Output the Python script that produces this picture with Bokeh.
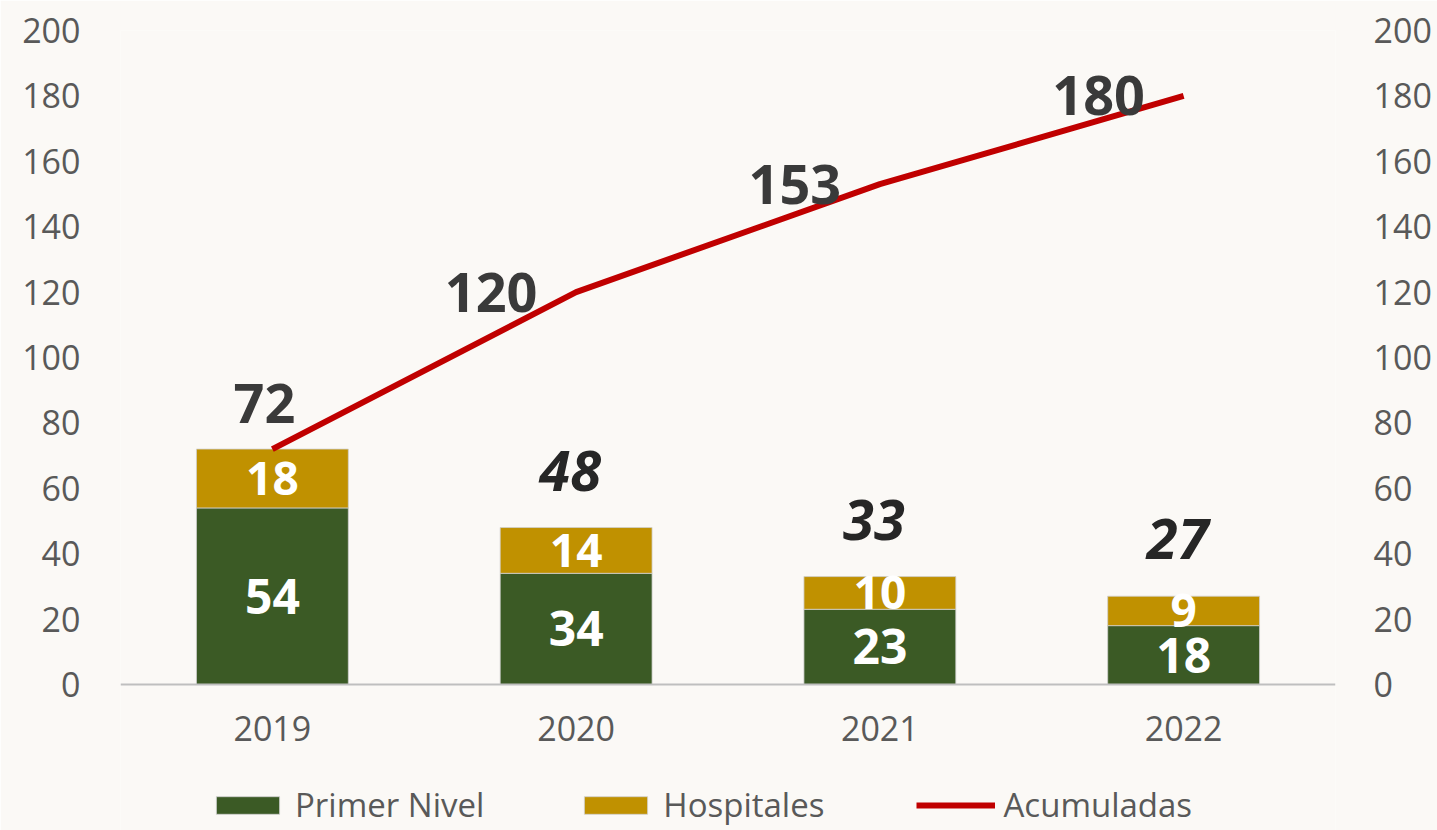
from bokeh.plotting import figure
from bokeh.models import (ColumnDataSource, FactorRange, Range1d, LinearAxis,
                          FixedTicker, Legend, LegendItem)
from bokeh.core.properties import value
from bokeh.embed import file_html
from bokeh.resources import INLINE

years = ["2019", "2020", "2021", "2022"]
primer_nivel = [54, 34, 23, 18]
hospitales = [18, 14, 10, 9]
acumuladas = [72, 120, 153, 180]
y_ticks = [0, 20, 40, 60, 80, 100, 120, 140, 160, 180, 200]

GREEN = "#3B5A25"
GOLD = "#C09100"
RED = "#C00000"
BG = "#FBF9F6"
FONT = "Open Sans"

totals = [a + b for a, b in zip(primer_nivel, hospitales)]

p = figure(width=1437, height=830, x_range=FactorRange(*years, range_padding=0),
           y_range=Range1d(-44.65, 200), output_backend="svg", toolbar_location=None,
           min_border_left=120, min_border_right=102, min_border_top=30,
           min_border_bottom=0)
p.background_fill_color = BG
p.border_fill_color = BG
p.outline_line_color = None
p.xgrid.grid_line_color = None
p.ygrid.grid_line_color = None

src = ColumnDataSource(dict(x=years, primer=primer_nivel, hosp=hospitales))
bars = p.vbar_stack(["primer", "hosp"], x="x", width=0.5, source=src,
                    color=[GREEN, GOLD], line_color="#D0D0D0", line_width=0.8)

line_src = ColumnDataSource(dict(x=years, y=acumuladas))
ln = p.line("x", "y", source=line_src, line_color=RED, line_width=6)

# segment labels
seg_src = ColumnDataSource(dict(
    x=years + years,
    y=[v / 2 for v in primer_nivel] + [a + b / 2 for a, b in zip(primer_nivel, hospitales)],
    t=[str(v) for v in primer_nivel] + [str(v) for v in hospitales],
    s=["48px"] * 4 + ["46px"] * 4,
))
p.text("x", "y", text="t", source=seg_src, text_color="white",
       text_font=value(FONT), text_font_style="bold", text_font_size="s",
       text_align="center", text_baseline="middle")

# totals labels (italic) for 2020-2022
tot_src = ColumnDataSource(dict(x=years[1:], y=totals[1:], t=[str(v) for v in totals[1:]]))
p.text("x", "y", text="t", source=tot_src, text_color="#262626",
       text_font=value(FONT), text_font_style="bold italic", text_font_size="56px",
       text_align="center", text_baseline="middle", x_offset=-6, y_offset=-57)

# cumulative labels
acc0 = ColumnDataSource(dict(x=years[:1], y=acumuladas[:1], t=[str(v) for v in acumuladas[:1]]))
p.text("x", "y", text="t", source=acc0, text_color="#3A3A3A",
       text_font=value(FONT), text_font_style="bold", text_font_size="54px",
       text_align="center", text_baseline="middle", x_offset=-8, y_offset=-46)
acc1 = ColumnDataSource(dict(x=years[1:], y=acumuladas[1:], t=[str(v) for v in acumuladas[1:]]))
p.text("x", "y", text="t", source=acc1, text_color="#3A3A3A",
       text_font=value(FONT), text_font_style="bold", text_font_size="54px",
       text_align="center", text_baseline="middle", x_offset=-85, y_offset=0)

# axes
p.yaxis[0].ticker = FixedTicker(ticks=y_ticks)
right = LinearAxis(ticker=FixedTicker(ticks=y_ticks))
p.add_layout(right, "right")
for ax in [p.yaxis[0], right]:
    ax.axis_line_color = None
    ax.major_tick_line_color = None
    ax.minor_tick_line_color = None
    ax.major_label_text_font = FONT
    ax.major_label_text_font_size = "34px"
    ax.major_label_text_color = "#595959"
p.yaxis[0].major_label_standoff = 34
right.major_label_standoff = 32

xa = p.xaxis[0]
xa.fixed_location = 0
xa.axis_line_color = "#BFBFBF"
xa.axis_line_width = 2
xa.major_tick_line_color = None
xa.minor_tick_line_color = None
xa.major_label_text_font = FONT
xa.major_label_text_font_size = "34px"
xa.major_label_text_color = "#595959"
xa.major_label_standoff = 26

legend = Legend(items=[
    LegendItem(label="Primer Nivel", renderers=[bars[0]]),
    LegendItem(label="Hospitales", renderers=[bars[1]]),
    LegendItem(label="Acumuladas", renderers=[ln]),
], orientation="horizontal", location=(88, 3))
legend.background_fill_alpha = 0
legend.border_line_color = None
legend.label_text_font = FONT
legend.label_text_font_size = "33px"
legend.label_text_color = "#595959"
legend.glyph_width = 79
legend.glyph_height = 22
legend.label_standoff = 8
legend.spacing = 92
legend.padding = 0
legend.margin = 0
p.add_layout(legend, "center")

open("out.html", "w").write(file_html(p, INLINE))
